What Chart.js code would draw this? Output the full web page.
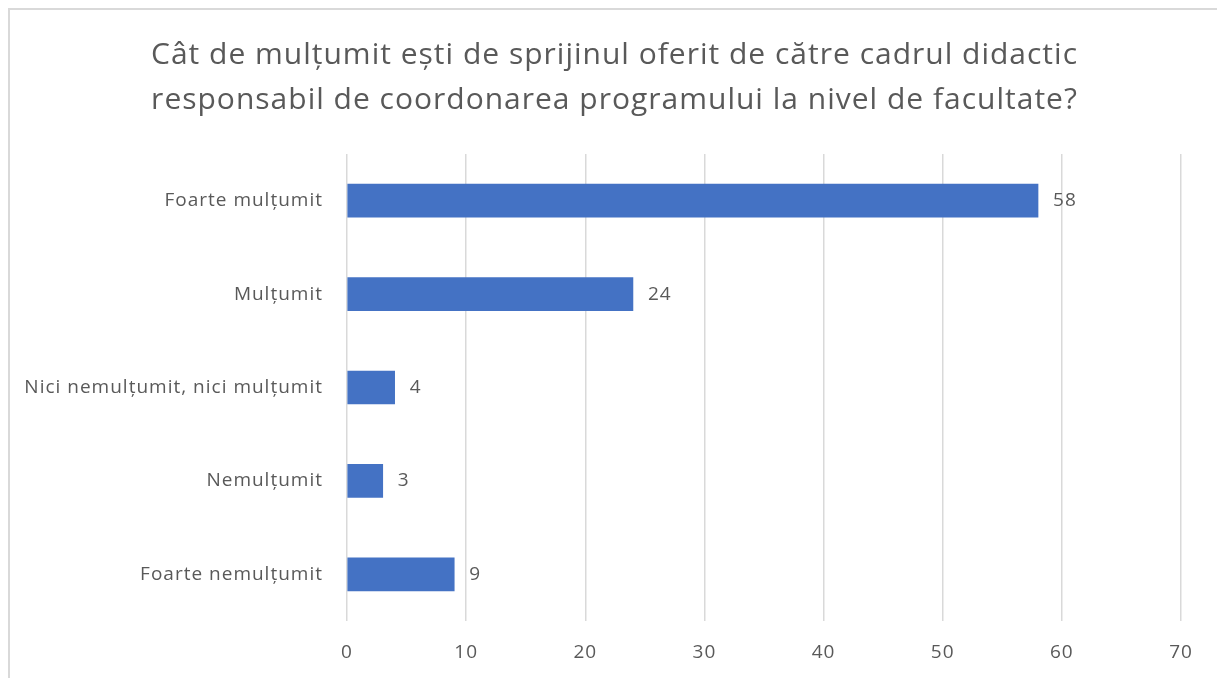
<!DOCTYPE html>
<html>
<head>
<meta charset="utf-8">
<script src="https://cdn.jsdelivr.net/npm/chart.js@4"></script>
<style>
  html, body { margin: 0; padding: 0; background: #fff; }
  #wrap { position: relative; width: 1217px; height: 678px; overflow: hidden; }
  #frame { position: absolute; left: 8px; top: 8px; width: 1230px; height: 700px; border: 2px solid #d9d9d9; pointer-events: none; }
  canvas { position: absolute; left: 0; top: 0; }
</style>
</head>
<body>
<div id="wrap">
  <canvas id="chart" width="1217" height="678"></canvas>
  <div id="frame"></div>
</div>
<script>
const titleLines = [
  "Cât de mulțumit ești de sprijinul oferit de către cadrul didactic",
  "responsabil de coordonarea programului la nivel de facultate?"
];
const categories = [
  "Foarte mulțumit",
  "Mulțumit",
  "Nici nemulțumit, nici mulțumit",
  "Nemulțumit",
  "Foarte nemulțumit"
];
const values = [58, 24, 4, 3, 9];
const xTicks = [0, 10, 20, 30, 40, 50, 60, 70];

const FONT = "'Open Sans', sans-serif";
const TEXT = "#595959";

// slightly wider text, closer to the original font
const spacing = {
  id: "spacing",
  afterLayout(chart) {
    // centre the title over the whole frame, not the padded box
    if (chart.titleBlock) {
      chart.titleBlock.left += 24;
      chart.titleBlock.right += 24;
    }
  },
  beforeDraw(chart) {
    chart.ctx.letterSpacing = "1px";
  }
};

// value labels to the right of each bar
const barLabels = {
  id: "barLabels",
  afterDatasetsDraw(chart) {
    const ctx = chart.ctx;
    const meta = chart.getDatasetMeta(0);
    ctx.save();
    ctx.font = "19px " + FONT;
    ctx.fillStyle = TEXT;
    ctx.textAlign = "left";
    ctx.textBaseline = "middle";
    meta.data.forEach((bar, i) => {
      ctx.fillText(String(values[i]), bar.x + 15, bar.y);
    });
    ctx.restore();
  }
};

new Chart(document.getElementById("chart").getContext("2d"), {
  type: "bar",
  data: {
    labels: categories,
    datasets: [{
      data: values,
      backgroundColor: "#4472C4",
      barThickness: 33
    }]
  },
  plugins: [spacing, barLabels],
  options: {
    indexAxis: "y",
    responsive: false,
    animation: false,
    layout: { padding: { left: 0, right: 36, top: 0, bottom: 0 } },
    plugins: {
      legend: { display: false },
      tooltip: { enabled: false },
      title: {
        display: true,
        text: titleLines,
        color: TEXT,
        font: { family: FONT, size: 30, weight: "normal", lineHeight: 1.5 },
        padding: { top: 33, bottom: 31 }
      }
    },
    scales: {
      x: {
        min: 0,
        max: 70,
        afterBuildTicks(scale) {
          scale.ticks = xTicks.map(v => ({ value: v }));
        },
        afterFit(scale) { scale.height = 57; },
        grid: { color: "#d9d9d9", lineWidth: 1.5, drawTicks: false },
        border: { display: false },
        ticks: { color: TEXT, font: { family: FONT, size: 19 }, padding: 20 }
      },
      y: {
        afterFit(scale) { scale.width = 347; },
        grid: { display: false },
        border: { display: false },
        ticks: { color: TEXT, font: { family: FONT, size: 19 }, padding: 16 }
      }
    }
  }
});
</script>
</body>
</html>
